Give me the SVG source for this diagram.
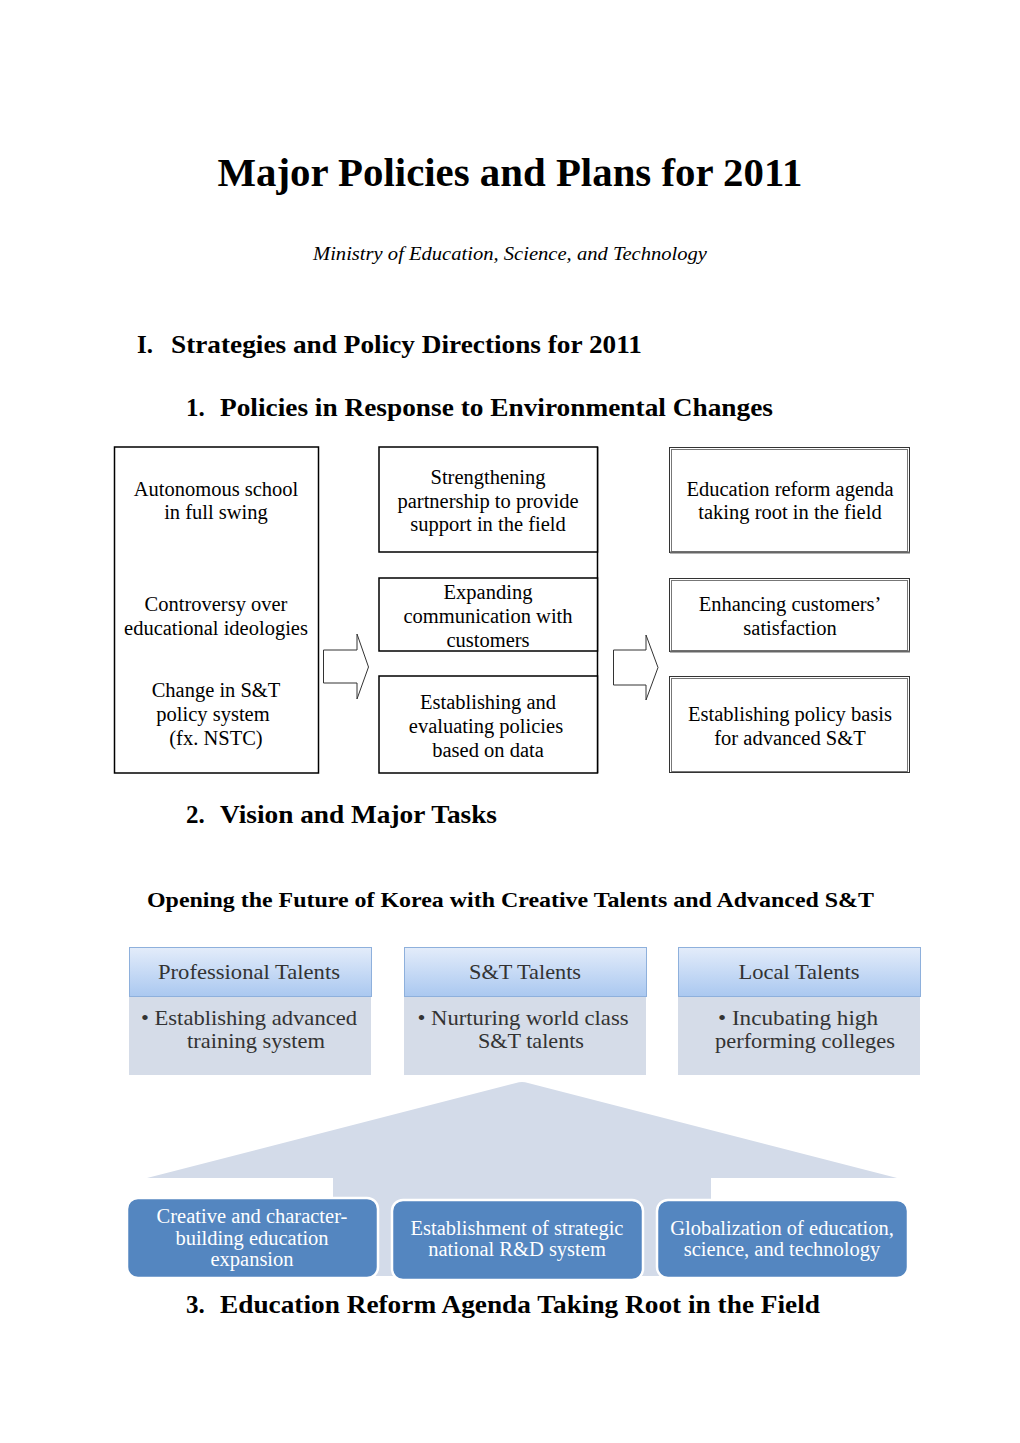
<svg xmlns="http://www.w3.org/2000/svg" width="1020" height="1443" viewBox="0 0 1020 1443">
<style>
.h{font-family:"Liberation Serif","Times New Roman",serif;font-weight:bold;fill:#000}
.t{font-family:"Liberation Serif","Times New Roman",serif;font-size:20.5px;fill:#000;text-anchor:middle}
.box{fill:#fff;stroke:#000;stroke-width:1.5}
.rbox{fill:#fff;stroke:#333;stroke-width:1}
.arrow{fill:#fff;stroke:#333;stroke-width:1}
.hd{font-family:"Liberation Serif","Times New Roman",serif;font-size:22px;fill:#333;text-anchor:middle}
.bd{font-family:"Liberation Serif","Times New Roman",serif;font-size:22px;fill:#333;text-anchor:middle}
.wt{font-family:"Liberation Serif","Times New Roman",serif;font-size:20.5px;fill:#fff;text-anchor:middle}
.blue{fill:#5486c0;stroke:#fff;stroke-width:2.5}
.hdr{fill:url(#g);stroke:#8eb0dc;stroke-width:1}
.body{fill:#d5dce8}
</style>
<defs>
<linearGradient id="g" x1="0" y1="0" x2="0" y2="1">
<stop offset="0" stop-color="#e3ecfa"/>
<stop offset="1" stop-color="#aac8f0"/>
</linearGradient>
</defs>
<rect width="1020" height="1443" fill="#fff"/>

<text class="h" x="510" y="186" font-size="41" text-anchor="middle" textLength="585" lengthAdjust="spacingAndGlyphs">Major Policies and Plans for 2011</text>
<text x="510" y="260" font-family="Liberation Serif, serif" font-style="italic" font-size="19" text-anchor="middle" textLength="394" lengthAdjust="spacingAndGlyphs">Ministry of Education, Science, and Technology</text>
<text class="h" x="137" y="353" font-size="25">I.</text>
<text class="h" x="171" y="353" font-size="25" textLength="471" lengthAdjust="spacingAndGlyphs">Strategies and Policy Directions for 2011</text>
<text class="h" x="186" y="416" font-size="25">1.</text>
<text class="h" x="220" y="416" font-size="25" textLength="553" lengthAdjust="spacingAndGlyphs">Policies in Response to Environmental Changes</text>

<g id="left-box">
<rect class="box" x="114.5" y="447" width="204" height="326"/>
<text class="t" x="216" y="496">Autonomous school</text>
<text class="t" x="216" y="519">in full swing</text>
<text class="t" x="216" y="611">Controversy over</text>
<text class="t" x="216" y="635">educational ideologies</text>
<text class="t" x="216" y="697">Change in S&amp;T</text>
<text class="t" x="213" y="721">policy system</text>
<text class="t" x="216" y="745">(fx. NSTC)</text>
</g>

<g id="mid-boxes">
<line x1="597.5" y1="447" x2="597.5" y2="773" stroke="#000" stroke-width="1.5"/>
<rect class="box" x="379" y="447" width="218.5" height="105"/>
<text class="t" x="488" y="484">Strengthening</text>
<text class="t" x="488" y="508">partnership to provide</text>
<text class="t" x="488" y="531">support in the field</text>
<rect class="box" x="379" y="578" width="218.5" height="73"/>
<text class="t" x="488" y="599">Expanding</text>
<text class="t" x="488" y="623">communication with</text>
<text class="t" x="488" y="647">customers</text>
<rect class="box" x="379" y="676" width="218.5" height="97"/>
<text class="t" x="488" y="709">Establishing and</text>
<text class="t" x="486" y="733">evaluating policies</text>
<text class="t" x="488" y="757">based on data</text>
</g>

<g id="right-boxes">
<rect class="rbox" x="669.5" y="447.5" width="240" height="105" stroke-width="1"/>
<rect x="671.5" y="449.5" width="236" height="102" fill="none" stroke="#777" stroke-width="1"/>
<line x1="670" y1="552.5" x2="910" y2="552.5" stroke="#666" stroke-width="2"/>
<text class="t" x="790" y="496">Education reform agenda</text>
<text class="t" x="790" y="519">taking root in the field</text>
<rect class="rbox" x="669.5" y="578.5" width="240" height="73"/>
<rect x="671.5" y="580.5" width="236" height="70" fill="none" stroke="#777" stroke-width="1"/>
<line x1="670" y1="651.5" x2="910" y2="651.5" stroke="#666" stroke-width="2"/>
<text class="t" x="790" y="611">Enhancing customers’</text>
<text class="t" x="790" y="635">satisfaction</text>
<rect class="rbox" x="669.5" y="676.5" width="240" height="96"/>
<rect x="671.5" y="678.5" width="236" height="93" fill="none" stroke="#777" stroke-width="1"/>
<text class="t" x="790" y="721">Establishing policy basis</text>
<text class="t" x="790" y="745">for advanced S&amp;T</text>
</g>

<g id="connectors">
<polygon class="arrow" points="323.5,650 357,650 357,634 368.5,667 357,699 357,683 323.5,683"/>
<polygon class="arrow" points="613.5,650 646,650 646,635 658,667.5 646,700 646,685 613.5,685"/>
</g>

<text class="h" x="186" y="823" font-size="25">2.</text>
<text class="h" x="220" y="823" font-size="25" textLength="277" lengthAdjust="spacingAndGlyphs">Vision and Major Tasks</text>
<text class="h" x="147" y="907" font-size="21.5" textLength="727" lengthAdjust="spacingAndGlyphs">Opening the Future of Korea with Creative Talents and Advanced S&amp;T</text>

<g id="talent-professional">
<rect class="body" x="129" y="997" width="242" height="78"/>
<rect class="hdr" x="129.5" y="947.5" width="242" height="49"/>
<text class="hd" x="249" y="979" textLength="182" lengthAdjust="spacingAndGlyphs">Professional Talents</text>
<text class="bd" x="249" y="1025" textLength="216" lengthAdjust="spacingAndGlyphs">• Establishing advanced</text>
<text class="bd" x="256" y="1048" textLength="138" lengthAdjust="spacingAndGlyphs">training system</text>
</g>
<g id="talent-st">
<rect class="body" x="404" y="997" width="242" height="78"/>
<rect class="hdr" x="404.5" y="947.5" width="242" height="49"/>
<text class="hd" x="525" y="979" textLength="112" lengthAdjust="spacingAndGlyphs">S&amp;T Talents</text>
<text class="bd" x="523" y="1025" textLength="211" lengthAdjust="spacingAndGlyphs">• Nurturing world class</text>
<text class="bd" x="531" y="1048" textLength="106" lengthAdjust="spacingAndGlyphs">S&amp;T talents</text>
</g>
<g id="talent-local">
<rect class="body" x="678" y="997" width="242" height="78"/>
<rect class="hdr" x="678.5" y="947.5" width="242" height="49"/>
<text class="hd" x="799" y="979" textLength="121" lengthAdjust="spacingAndGlyphs">Local Talents</text>
<text class="bd" x="798" y="1025" textLength="160" lengthAdjust="spacingAndGlyphs">• Incubating high</text>
<text class="bd" x="805" y="1048" textLength="180" lengthAdjust="spacingAndGlyphs">performing colleges</text>
</g>

<g id="house">
<path d="M147,1178 L516,1083 Q522,1081 528,1083 L897,1178 L711,1178 L711,1276 L333,1276 L333,1178 Z" fill="#d3dbe9"/>
</g>

<g id="task-creative">
<rect class="blue" x="127" y="1198" width="251" height="80" rx="11"/>
<text class="wt" x="252" y="1223">Creative and character-</text>
<text class="wt" x="252" y="1245">building education</text>
<text class="wt" x="252" y="1266">expansion</text>
</g>
<g id="task-rd">
<rect class="blue" x="392" y="1200" width="251" height="80" rx="11"/>
<text class="wt" x="517" y="1235">Establishment of strategic</text>
<text class="wt" x="517" y="1256">national R&amp;D system</text>
</g>
<g id="task-global">
<rect class="blue" x="657" y="1200" width="251" height="78" rx="11"/>
<text class="wt" x="782" y="1235">Globalization of education,</text>
<text class="wt" x="782" y="1256">science, and technology</text>
</g>

<text class="h" x="186" y="1313" font-size="25">3.</text>
<text class="h" x="220" y="1313" font-size="25" textLength="600" lengthAdjust="spacingAndGlyphs">Education Reform Agenda Taking Root in the Field</text>
</svg>
